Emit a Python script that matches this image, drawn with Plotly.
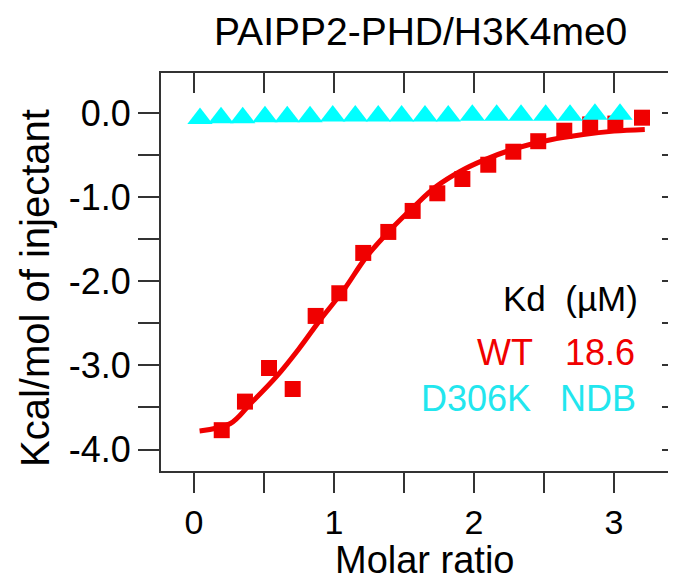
import plotly.graph_objects as go

# ---- data ----
wt_x = [0.198, 0.364, 0.536, 0.705, 0.869, 1.038, 1.209, 1.388, 1.562, 1.738,
        1.917, 2.102, 2.281, 2.459, 2.645, 2.830, 3.010, 3.200]
wt_y = [-3.77, -3.43, -3.03, -3.28, -2.41, -2.14, -1.66, -1.41, -1.16, -0.95,
        -0.78, -0.61, -0.455, -0.33, -0.205, -0.13, -0.12, -0.05]

fit_x = [0.04, 0.26, 0.40, 0.59, 0.75, 0.90, 1.07, 1.23, 1.40, 1.57, 1.73,
         1.90, 2.07, 2.30, 2.54, 2.78, 3.00, 3.22]
fit_y = [-3.78, -3.69, -3.46, -3.13, -2.80, -2.46, -2.10, -1.71, -1.39, -1.11,
         -0.87, -0.69, -0.555, -0.415, -0.315, -0.25, -0.21, -0.19]

mut_x = [0.043, 0.193, 0.348, 0.507, 0.666, 0.829, 0.991, 1.152, 1.316, 1.483,
         1.650, 1.816, 1.988, 2.162, 2.336, 2.512, 2.686, 2.864, 3.043]
mut_y = [-0.06, -0.05, -0.05, -0.04, -0.04, -0.04, -0.03, -0.03, -0.03, -0.03,
         -0.03, -0.03, -0.02, -0.02, -0.02, -0.02, -0.02, -0.01, -0.01]

x_tickvals = [0, 0.5, 1, 1.5, 2, 2.5, 3]
x_ticktext = ["0", "", "1", "", "2", "", "3"]
y_tickvals = [0, -0.5, -1, -1.5, -2, -2.5, -3, -3.5, -4]
y_ticktext = ["0.0", "", "-1.0", "", "-2.0", "", "-3.0", "", "-4.0"]

RED = "#F00000"
CYAN = "#00FFFF"
CYAN_TXT = "#22E6EE"
AX = "#333333"
FONT = "Liberation Sans, Arial, sans-serif"

# page has an 8px body margin; figure is drawn offset by it
OFF = 8
SW, SH = 676, 582               # screenshot size
S_L, S_R, S_T, S_B = 161, 676, 73, 471   # plot frame in screenshot pixels
W, H = SW - OFF, SH - OFF
L, R, T, B = S_L - OFF, S_R - OFF, S_T - OFF, S_B - OFF

xr = [-0.2357, 3.443]
yr = [-4.256, 0.482]

fig = go.Figure()
fig.add_trace(go.Scatter(x=fit_x, y=fit_y, mode="lines",
                         line=dict(color=RED, width=5, shape="spline"),
                         showlegend=False, hoverinfo="skip"))
fig.add_trace(go.Scatter(x=wt_x, y=wt_y, mode="markers",
                         marker=dict(symbol="square", size=16, color=RED),
                         showlegend=False))
fig.add_trace(go.Scatter(x=mut_x, y=mut_y, mode="markers", xaxis="x2", yaxis="y2",
                         marker=dict(symbol="triangle-up", size=22, color=CYAN),
                         showlegend=False))

common = dict(showgrid=False, zeroline=False, tickwidth=2, tickcolor=AX,
              linecolor=AX, linewidth=2)

fig.update_layout(
    width=W, height=H,
    margin=dict(l=L, r=W - R, t=T, b=H - B, pad=0),
    plot_bgcolor="white", paper_bgcolor="white",
    font=dict(family=FONT, color="black"),
    xaxis=dict(range=xr, showline=True, ticks="outside", ticklen=20,
               tickmode="array", tickvals=x_tickvals, ticktext=x_ticktext,
               tickfont=dict(size=34), **common),
    yaxis=dict(range=yr, showline=True, ticks="outside", ticklen=21,
               tickmode="array", tickvals=y_tickvals, ticktext=y_ticktext,
               tickfont=dict(size=36), **common),
    xaxis2=dict(range=xr, overlaying="x", side="top", anchor="y", showline=True,
                ticks="inside", ticklen=20, tickmode="array", tickvals=x_tickvals,
                showticklabels=False, **common),
    yaxis2=dict(range=yr, overlaying="y", side="right", anchor="x", showline=False,
                ticks="inside", ticklen=14, tickmode="array", tickvals=y_tickvals,
                showticklabels=False, **common),
)

def px(xs):
    return (xs - S_L) / (S_R - S_L)

def py(ys):
    return (S_B - ys) / (S_B - S_T)

annos = [
    dict(text="PAIPP2-PHD/H3K4me0", x=px(420), y=py(31),
         font=dict(size=39), xanchor="center", yanchor="middle"),
    dict(text="Molar ratio", x=px(424.5), y=py(560),
         font=dict(size=38), xanchor="center", yanchor="middle"),
    dict(text="Kcal/mol of injectant", x=px(35), y=py(288),
         font=dict(size=40), textangle=-90, xanchor="center", yanchor="middle"),
    dict(text="Kd  (µM)", x=px(640), y=py(298),
         font=dict(size=35, color="black"), xanchor="right", yanchor="middle"),
    dict(text="WT", x=px(535), y=py(352),
         font=dict(size=36, color=RED), xanchor="right", yanchor="middle"),
    dict(text="18.6", x=px(637), y=py(352),
         font=dict(size=36, color=RED), xanchor="right", yanchor="middle"),
    dict(text="D306K", x=px(533), y=py(398),
         font=dict(size=36, color=CYAN_TXT), xanchor="right", yanchor="middle"),
    dict(text="NDB", x=px(638), y=py(398),
         font=dict(size=36, color=CYAN_TXT), xanchor="right", yanchor="middle"),
]
for a in annos:
    a["showarrow"] = False
    a["xref"] = "paper"
    a["yref"] = "paper"
    fig.add_annotation(**a)

fig.write_html("out.html")
